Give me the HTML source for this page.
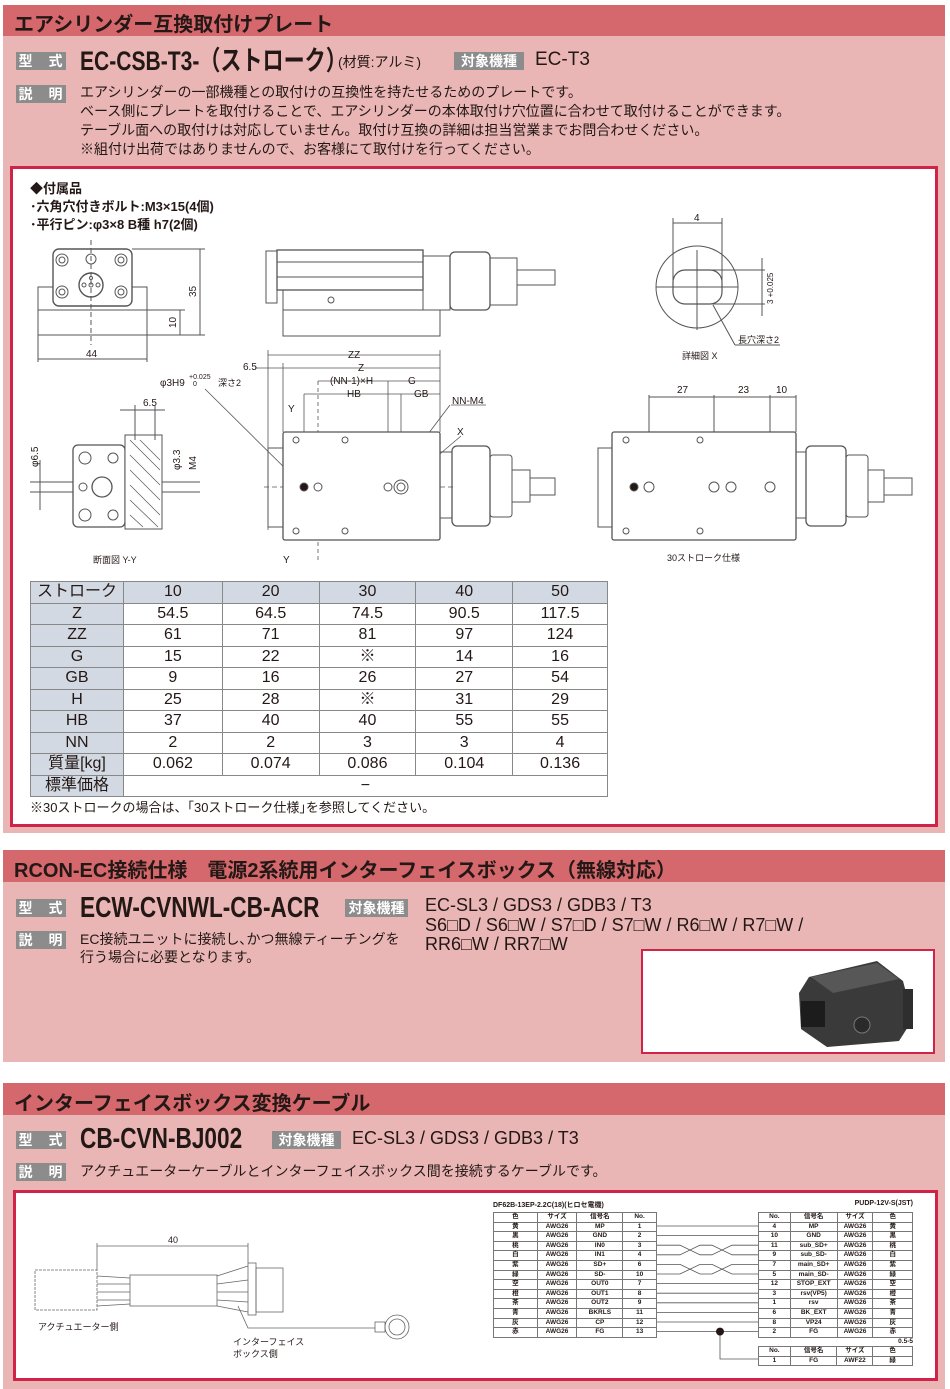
<!DOCTYPE html>
<html><head><meta charset="utf-8">
<style>
*{margin:0;padding:0;box-sizing:border-box}
body{width:950px;height:1389px;background:#fff;position:relative;overflow:hidden;font-family:"Liberation Sans","Noto Sans CJK JP",sans-serif;color:#231815}
.a{position:absolute;white-space:nowrap}
.hd{position:absolute;left:3px;width:942px;background:#d4686c}
.bd{position:absolute;left:3px;width:942px;background:#e9b6b5}
.ht{position:absolute;left:14px;font-weight:bold;font-size:20px;color:#231815}
.lb{position:absolute;background:#8c8c8c;color:#fff;font-size:14px;font-weight:bold;height:18px;line-height:18px;text-align:center;letter-spacing:1px}
.md{position:absolute;font-weight:bold;font-size:27px;transform:scaleX(.78);transform-origin:left center;line-height:30px}
.tx{position:absolute;font-size:14px;line-height:19px}
.wb{position:absolute;background:#fff;border:3px solid #cf2347}
table{border-collapse:collapse}
</style></head><body>

<!-- Section 1 -->
<div class="hd" style="top:5px;height:31px"></div>
<div class="ht" style="top:8px">エアシリンダー互換取付けプレート</div>
<div class="bd" style="top:36px;height:797px"></div>
<div class="lb" style="left:16px;top:52px;width:50px">型　式</div>
<div class="md" style="left:80px;top:46px">EC-CSB-T3-（ストローク）</div>
<div class="a" style="left:338px;top:52px;font-size:14px">(材質:アルミ)</div>
<div class="lb" style="left:454px;top:52px;width:70px;letter-spacing:0">対象機種</div>
<div class="a" style="left:535px;top:49px;font-size:19px">EC-T3</div>
<div class="lb" style="left:16px;top:85px;width:50px">説　明</div>
<div class="tx" style="left:80px;top:83px">エアシリンダーの一部機種との取付けの互換性を持たせるためのプレートです。<br>ベース側にプレートを取付けることで、エアシリンダーの本体取付け穴位置に合わせて取付けることができます。<br>テーブル面への取付けは対応していません。取付け互換の詳細は担当営業までお問合わせください。<br>※組付け出荷ではありませんので、お客様にて取付けを行ってください。</div>
<div class="wb" style="left:10px;top:166px;width:928px;height:661px"></div>
<div class="a" style="left:30px;top:180px;font-size:13px;line-height:18px;font-weight:bold">◆付属品<br>･六角穴付きボルト:M3×15(4個)<br>･平行ピン:φ3×8 B種 h7(2個)</div>

<svg class="a" style="left:0;top:0" width="950" height="1389" viewBox="0 0 950 1389" fill="none" stroke="#555" stroke-width="1" font-family="Liberation Sans, Noto Sans CJK JP, sans-serif">
<rect x="38" y="287" width="109" height="48" fill="#fff"/>
<line x1="38" y1="310" x2="147" y2="310"/>
<rect x="53" y="249" width="79" height="57" rx="6" fill="#fff" stroke-width="1.4"/>
<circle cx="62" cy="260" r="6"/><circle cx="62" cy="260" r="3"/>
<circle cx="121" cy="260" r="6"/><circle cx="121" cy="260" r="3"/>
<circle cx="62" cy="292" r="6"/><circle cx="62" cy="292" r="3"/>
<circle cx="121" cy="292" r="6"/><circle cx="121" cy="292" r="3"/>
<circle cx="91" cy="259" r="5"/><circle cx="91" cy="285" r="12" stroke-width="1.4"/><circle cx="91" cy="285" r="2"/><circle cx="84" cy="285" r="2"/><circle cx="98" cy="285" r="2"/><circle cx="91" cy="278" r="1.5"/>
<line x1="91" y1="240" x2="91" y2="345" stroke-dasharray="5 3"/>
<line x1="132" y1="249" x2="205" y2="249"/><line x1="147" y1="335" x2="205" y2="335"/><line x1="200" y1="249" x2="200" y2="335"/>
<line x1="147" y1="310" x2="185" y2="310"/><line x1="180" y1="310" x2="180" y2="335"/>
<line x1="38" y1="335" x2="38" y2="362"/><line x1="147" y1="335" x2="147" y2="362"/><line x1="38" y1="359" x2="147" y2="359"/>
<g fill="#231815" stroke="none" font-size="10"><text x="86" y="357">44</text><text transform="translate(196,297) rotate(-90)">35</text><text transform="translate(176,328) rotate(-90)">10</text></g>
<rect x="266" y="251" width="11" height="52"/>
<rect x="277" y="250" width="146" height="40" stroke-width="1.3"/>
<line x1="277" y1="262" x2="423" y2="262"/><line x1="277" y1="277" x2="423" y2="277"/>
<rect x="283" y="290" width="140" height="20"/>
<rect x="283" y="310" width="157" height="26"/>
<circle cx="331" cy="300" r="3"/>
<path d="M423 256 L450 256 L450 310 L423 310"/>
<rect x="450" y="252" width="40" height="58" rx="5" stroke-width="1.3"/>
<rect x="490" y="258" width="27" height="47"/>
<rect x="517" y="270" width="38" height="15"/>
<g stroke-width=".8">
<line x1="268" y1="350" x2="268" y2="530"/><line x1="283" y1="363" x2="283" y2="432"/><line x1="440" y1="350" x2="440" y2="432"/>
<line x1="268" y1="355" x2="440" y2="355"/><line x1="255" y1="368" x2="440" y2="368"/>
<line x1="318" y1="381" x2="440" y2="381"/><line x1="304" y1="394" x2="440" y2="394"/>
<line x1="318" y1="381" x2="318" y2="560" stroke-dasharray="4 3"/><line x1="304" y1="394" x2="304" y2="487"/><line x1="388" y1="381" x2="388" y2="487"/><line x1="401" y1="394" x2="401" y2="487"/>
<line x1="264" y1="487" x2="455" y2="487" stroke-dasharray="5 3"/>
<line x1="205" y1="389" x2="304" y2="487"/><line x1="450" y1="405" x2="388" y2="487"/><line x1="461" y1="436" x2="401" y2="487"/>
<line x1="451" y1="405" x2="486" y2="405"/>
</g>
<rect x="283" y="432" width="157" height="108" rx="2" fill="#fff" stroke-width="1.3"/>
<rect x="268" y="448" width="15" height="79"/>
<rect x="440" y="452" width="12" height="66"/>
<rect x="452" y="446" width="38" height="80" rx="5" stroke-width="1.3"/>
<rect x="490" y="455" width="22" height="62" rx="3"/>
<rect x="512" y="470" width="18" height="32"/><rect x="530" y="478" width="25" height="17"/>
<circle cx="304" cy="487" r="4" fill="#231815"/><circle cx="318" cy="487" r="4"/><circle cx="388" cy="487" r="4"/><circle cx="401" cy="487" r="7"/><circle cx="401" cy="487" r="4"/>
<circle cx="296" cy="440" r="3"/><circle cx="345" cy="440" r="3"/><circle cx="296" cy="531" r="3"/><circle cx="345" cy="531" r="3"/>
<g fill="#231815" stroke="none" font-size="10"><text x="348" y="358">ZZ</text><text x="358" y="371">Z</text><text x="243" y="370">6.5</text><text x="330" y="384">(NN-1)×H</text><text x="408" y="384">G</text><text x="347" y="397">HB</text><text x="414" y="397">GB</text><text x="452" y="404">NN-M4</text><text x="457" y="435">X</text><text x="288" y="412">Y</text><text x="283" y="563">Y</text>
<text x="160" y="386">φ3H9</text><text x="189" y="379" font-size="7">+0.025</text><text x="193" y="386" font-size="7">0</text><text x="218" y="386" font-size="9">深さ2</text>
<text x="93" y="563" font-size="9">断面図 Y-Y</text><text x="143" y="406">6.5</text></g>
<rect x="73" y="445" width="52" height="82" rx="5" stroke-width="1.3"/>
<circle cx="85" cy="458" r="6"/><circle cx="85" cy="515" r="6"/><circle cx="113" cy="458" r="5"/><circle cx="113" cy="515" r="5"/><circle cx="102" cy="487" r="10" stroke-width="1.3"/><circle cx="83" cy="487" r="4"/>
<rect x="125" y="435" width="37" height="94" fill="#fff"/>
<path d="M130 440 L160 470 M130 455 L160 485 M130 470 L160 500 M130 485 L160 515 M130 500 L158 527 M140 440 L160 460 M130 515 L143 527" stroke-width=".7"/>
<line x1="162" y1="482" x2="200" y2="482"/><line x1="162" y1="492" x2="200" y2="492"/>
<line x1="30" y1="482" x2="73" y2="482"/><line x1="30" y1="492" x2="73" y2="492"/><line x1="40" y1="460" x2="40" y2="510"/>
<line x1="120" y1="410" x2="165" y2="410"/><line x1="135" y1="405" x2="135" y2="440"/><line x1="155" y1="405" x2="155" y2="440"/>
<g fill="#231815" stroke="none" font-size="10"><text transform="translate(38,467) rotate(-90)">φ6.5</text><text transform="translate(180,470) rotate(-90)">φ3.3</text><text transform="translate(196,470) rotate(-90)">M4</text></g>
<circle cx="697" cy="287" r="41"/>
<rect x="673" y="270" width="49" height="34" rx="12" stroke-width="1.2"/>
<line x1="697" y1="250" x2="697" y2="330"/><line x1="656" y1="287" x2="738" y2="287"/>
<line x1="673" y1="218" x2="673" y2="287"/><line x1="722" y1="218" x2="722" y2="287"/><line x1="673" y1="223" x2="722" y2="223"/>
<line x1="697" y1="270" x2="765" y2="270"/><line x1="697" y1="304" x2="765" y2="304"/><line x1="762" y1="258" x2="762" y2="316"/>
<line x1="713" y1="305" x2="735" y2="345"/><line x1="735" y1="345" x2="780" y2="345"/>
<g fill="#231815" stroke="none" font-size="10"><text x="694" y="221">4</text><text x="738" y="343" font-size="9">長穴深さ2</text><text x="682" y="359" font-size="9">詳細図 X</text><text transform="translate(773,304) rotate(-90)" font-size="8">3 +0.025</text></g>
<line x1="649" y1="395" x2="649" y2="487"/><line x1="714" y1="395" x2="714" y2="487"/><line x1="770" y1="395" x2="770" y2="487"/><line x1="796" y1="395" x2="796" y2="432"/>
<line x1="649" y1="397" x2="796" y2="397"/>
<rect x="612" y="432" width="184" height="108" rx="2" fill="#fff" stroke-width="1.3"/>
<rect x="598" y="448" width="14" height="79"/>
<rect x="796" y="452" width="10" height="66"/>
<rect x="806" y="446" width="40" height="80" rx="5" stroke-width="1.3"/>
<rect x="846" y="455" width="22" height="62" rx="3"/>
<rect x="868" y="470" width="16" height="32"/><rect x="884" y="478" width="28" height="17"/>
<circle cx="634" cy="487" r="4" fill="#231815"/><circle cx="649" cy="487" r="5"/><circle cx="714" cy="487" r="5"/><circle cx="731" cy="487" r="5"/><circle cx="770" cy="487" r="5"/>
<circle cx="626" cy="440" r="3"/><circle cx="700" cy="440" r="3"/><circle cx="626" cy="531" r="3"/><circle cx="700" cy="531" r="3"/>
<g fill="#231815" stroke="none" font-size="10"><text x="677" y="393">27</text><text x="738" y="393">23</text><text x="776" y="393">10</text><text x="667" y="561" font-size="9">30ストローク仕様</text></g>
</svg>

<table class="a" style="left:30px;top:581px;width:578px;font-size:16px;text-align:center">
<colgroup><col style="width:93px"><col style="width:99px"><col style="width:97px"><col style="width:97px"><col style="width:97px"><col style="width:95px"></colgroup>
<tbody style="line-height:20.5px">
<tr style="background:#d3d9e2"><td style="border:1px solid #888">ストローク</td><td style="border:1px solid #888">10</td><td style="border:1px solid #888">20</td><td style="border:1px solid #888">30</td><td style="border:1px solid #888">40</td><td style="border:1px solid #888">50</td></tr>
<tr><td style="border:1px solid #888;background:#d3d9e2">Z</td><td style="border:1px solid #888">54.5</td><td style="border:1px solid #888">64.5</td><td style="border:1px solid #888">74.5</td><td style="border:1px solid #888">90.5</td><td style="border:1px solid #888">117.5</td></tr>
<tr><td style="border:1px solid #888;background:#d3d9e2">ZZ</td><td style="border:1px solid #888">61</td><td style="border:1px solid #888">71</td><td style="border:1px solid #888">81</td><td style="border:1px solid #888">97</td><td style="border:1px solid #888">124</td></tr>
<tr><td style="border:1px solid #888;background:#d3d9e2">G</td><td style="border:1px solid #888">15</td><td style="border:1px solid #888">22</td><td style="border:1px solid #888">※</td><td style="border:1px solid #888">14</td><td style="border:1px solid #888">16</td></tr>
<tr><td style="border:1px solid #888;background:#d3d9e2">GB</td><td style="border:1px solid #888">9</td><td style="border:1px solid #888">16</td><td style="border:1px solid #888">26</td><td style="border:1px solid #888">27</td><td style="border:1px solid #888">54</td></tr>
<tr><td style="border:1px solid #888;background:#d3d9e2">H</td><td style="border:1px solid #888">25</td><td style="border:1px solid #888">28</td><td style="border:1px solid #888">※</td><td style="border:1px solid #888">31</td><td style="border:1px solid #888">29</td></tr>
<tr><td style="border:1px solid #888;background:#d3d9e2">HB</td><td style="border:1px solid #888">37</td><td style="border:1px solid #888">40</td><td style="border:1px solid #888">40</td><td style="border:1px solid #888">55</td><td style="border:1px solid #888">55</td></tr>
<tr><td style="border:1px solid #888;background:#d3d9e2">NN</td><td style="border:1px solid #888">2</td><td style="border:1px solid #888">2</td><td style="border:1px solid #888">3</td><td style="border:1px solid #888">3</td><td style="border:1px solid #888">4</td></tr>
<tr><td style="border:1px solid #888;background:#d3d9e2">質量[kg]</td><td style="border:1px solid #888">0.062</td><td style="border:1px solid #888">0.074</td><td style="border:1px solid #888">0.086</td><td style="border:1px solid #888">0.104</td><td style="border:1px solid #888">0.136</td></tr>
<tr><td style="border:1px solid #888;background:#d3d9e2">標準価格</td><td colspan="5" style="border:1px solid #888">−</td></tr>
</tbody></table>
<div class="a" style="left:30px;top:797px;font-size:13px">※30ストロークの場合は、｢30ストローク仕様｣を参照してください。</div>

<!-- Section 2 -->
<div class="hd" style="top:850px;height:32px"></div>
<div class="ht" style="top:854px">RCON-EC接続仕様　電源2系統用インターフェイスボックス（無線対応）</div>
<div class="bd" style="top:882px;height:180px"></div>
<div class="lb" style="left:16px;top:899px;width:50px">型　式</div>
<div class="md" style="left:80px;top:893px;font-size:29px">ECW-CVNWL-CB-ACR</div>
<div class="lb" style="left:345px;top:899px;width:63px;letter-spacing:0">対象機種</div>
<div class="a" style="left:425px;top:896px;font-size:18px;line-height:19.5px">EC-SL3 / GDS3 / GDB3 / T3<br>S6□D / S6□W / S7□D / S7□W / R6□W / R7□W /<br>RR6□W / RR7□W</div>
<div class="lb" style="left:16px;top:931px;width:50px">説　明</div>
<div class="tx" style="left:80px;top:930px;line-height:18px">EC接続ユニットに接続し､かつ無線ティーチングを<br>行う場合に必要となります。</div>
<div class="a" style="left:641px;top:949px;width:294px;height:105px;background:#fff;border:2px solid #cf2347"></div>
<svg class="a" style="left:641px;top:949px" width="294" height="105" viewBox="0 0 294 105">
<path d="M168 28 L236 12 L262 32 L272 70 L258 92 L186 98 L160 80 L158 44 Z" fill="#3a3a3a"/>
<path d="M170 28 L236 14 L258 30 L192 44 Z" fill="#575757"/>
<rect x="160" y="52" width="24" height="26" fill="#1c1c1c"/>
<circle cx="221" cy="76" r="8" fill="#2a2a2a" stroke="#777"/>
<rect x="262" y="40" width="10" height="40" fill="#2e2e2e"/>
</svg>

<!-- Section 3 -->
<div class="hd" style="top:1083px;height:32px"></div>
<div class="ht" style="top:1087px">インターフェイスボックス変換ケーブル</div>
<div class="bd" style="top:1115px;height:274px"></div>
<div class="lb" style="left:16px;top:1131px;width:50px">型　式</div>
<div class="md" style="left:80px;top:1124px;font-size:29px">CB-CVN-BJ002</div>
<div class="lb" style="left:272px;top:1131px;width:69px;letter-spacing:0">対象機種</div>
<div class="a" style="left:352px;top:1128px;font-size:18px">EC-SL3 / GDS3 / GDB3 / T3</div>
<div class="lb" style="left:16px;top:1163px;width:50px">説　明</div>
<div class="tx" style="left:80px;top:1162px">アクチュエーターケーブルとインターフェイスボックス間を接続するケーブルです。</div>
<div class="wb" style="left:13px;top:1190px;width:925px;height:191px"></div>

<svg class="a" style="left:0;top:0" width="950" height="1389" viewBox="0 0 950 1389" fill="none" stroke="#666" stroke-width=".8" font-family="Liberation Sans, Noto Sans CJK JP, sans-serif">
<rect x="35" y="1270" width="62" height="40" stroke-dasharray="3 1"/>
<path d="M97 1276 L130 1278 M97 1284 L130 1284 M97 1292 L130 1292 M97 1300 L130 1300 M97 1306 L130 1304 M217 1276 L248 1266 M217 1284 L248 1280 M217 1292 L248 1292 M217 1300 L248 1302 M217 1306 L248 1312"/>
<rect x="130" y="1275" width="87" height="31"/>
<rect x="248" y="1263" width="8" height="52"/><rect x="256" y="1268" width="27" height="44"/>
<path d="M238 1306 L248 1328 L375 1328"/><rect x="375" y="1322" width="10" height="10"/>
<circle cx="397" cy="1327" r="12"/><circle cx="397" cy="1327" r="8"/>
<line x1="97" y1="1243" x2="97" y2="1270"/><line x1="248" y1="1243" x2="248" y2="1263"/><line x1="97" y1="1246" x2="248" y2="1246"/>
<g fill="#231815" stroke="none" font-size="9"><text x="168" y="1243">40</text><text x="38" y="1330">アクチュエーター側</text><text x="233" y="1345">インターフェイス</text><text x="233" y="1357">ボックス側</text></g>
</svg>

<div class="a" style="left:493px;top:1200px;font-size:7px;font-weight:bold">DF62B-13EP-2.2C(18)(ヒロセ電機)</div>
<div class="a" style="left:840px;top:1200px;width:73px;text-align:right;font-size:7px;font-weight:bold">PUDP-12V-S(JST)</div>
<table class="a" style="left:493px;top:1212px;width:164px;font-size:6.5px;font-weight:bold;text-align:center;line-height:8.6px">
<colgroup><col style="width:44px"><col style="width:40px"><col style="width:46px"><col style="width:34px"></colgroup>
<tr><td style="border:1px solid #777">色</td><td style="border:1px solid #777">サイズ</td><td style="border:1px solid #777">信号名</td><td style="border:1px solid #777">No.</td></tr>
<tr><td style="border:1px solid #777">黄</td><td style="border:1px solid #777">AWG26</td><td style="border:1px solid #777">MP</td><td style="border:1px solid #777">1</td></tr>
<tr><td style="border:1px solid #777">黒</td><td style="border:1px solid #777">AWG26</td><td style="border:1px solid #777">GND</td><td style="border:1px solid #777">2</td></tr>
<tr><td style="border:1px solid #777">桃</td><td style="border:1px solid #777">AWG26</td><td style="border:1px solid #777">IN0</td><td style="border:1px solid #777">3</td></tr>
<tr><td style="border:1px solid #777">白</td><td style="border:1px solid #777">AWG26</td><td style="border:1px solid #777">IN1</td><td style="border:1px solid #777">4</td></tr>
<tr><td style="border:1px solid #777">紫</td><td style="border:1px solid #777">AWG26</td><td style="border:1px solid #777">SD+</td><td style="border:1px solid #777">6</td></tr>
<tr><td style="border:1px solid #777">緑</td><td style="border:1px solid #777">AWG26</td><td style="border:1px solid #777">SD-</td><td style="border:1px solid #777">10</td></tr>
<tr><td style="border:1px solid #777">空</td><td style="border:1px solid #777">AWG26</td><td style="border:1px solid #777">OUT0</td><td style="border:1px solid #777">7</td></tr>
<tr><td style="border:1px solid #777">橙</td><td style="border:1px solid #777">AWG26</td><td style="border:1px solid #777">OUT1</td><td style="border:1px solid #777">8</td></tr>
<tr><td style="border:1px solid #777">茶</td><td style="border:1px solid #777">AWG26</td><td style="border:1px solid #777">OUT2</td><td style="border:1px solid #777">9</td></tr>
<tr><td style="border:1px solid #777">青</td><td style="border:1px solid #777">AWG26</td><td style="border:1px solid #777">BKRLS</td><td style="border:1px solid #777">11</td></tr>
<tr><td style="border:1px solid #777">灰</td><td style="border:1px solid #777">AWG26</td><td style="border:1px solid #777">CP</td><td style="border:1px solid #777">12</td></tr>
<tr><td style="border:1px solid #777">赤</td><td style="border:1px solid #777">AWG26</td><td style="border:1px solid #777">FG</td><td style="border:1px solid #777">13</td></tr>
</table>
<table class="a" style="left:758px;top:1212px;width:155px;font-size:6.5px;font-weight:bold;text-align:center;line-height:8.6px">
<colgroup><col style="width:32px"><col style="width:47px"><col style="width:36px"><col style="width:40px"></colgroup>
<tr><td style="border:1px solid #777">No.</td><td style="border:1px solid #777">信号名</td><td style="border:1px solid #777">サイズ</td><td style="border:1px solid #777">色</td></tr>
<tr><td style="border:1px solid #777">4</td><td style="border:1px solid #777">MP</td><td style="border:1px solid #777">AWG26</td><td style="border:1px solid #777">黄</td></tr>
<tr><td style="border:1px solid #777">10</td><td style="border:1px solid #777">GND</td><td style="border:1px solid #777">AWG26</td><td style="border:1px solid #777">黒</td></tr>
<tr><td style="border:1px solid #777">11</td><td style="border:1px solid #777">sub_SD+</td><td style="border:1px solid #777">AWG26</td><td style="border:1px solid #777">桃</td></tr>
<tr><td style="border:1px solid #777">9</td><td style="border:1px solid #777">sub_SD-</td><td style="border:1px solid #777">AWG26</td><td style="border:1px solid #777">白</td></tr>
<tr><td style="border:1px solid #777">7</td><td style="border:1px solid #777">main_SD+</td><td style="border:1px solid #777">AWG26</td><td style="border:1px solid #777">紫</td></tr>
<tr><td style="border:1px solid #777">5</td><td style="border:1px solid #777">main_SD-</td><td style="border:1px solid #777">AWG26</td><td style="border:1px solid #777">緑</td></tr>
<tr><td style="border:1px solid #777">12</td><td style="border:1px solid #777">STOP_EXT</td><td style="border:1px solid #777">AWG26</td><td style="border:1px solid #777">空</td></tr>
<tr><td style="border:1px solid #777">3</td><td style="border:1px solid #777">rsv(VP5)</td><td style="border:1px solid #777">AWG26</td><td style="border:1px solid #777">橙</td></tr>
<tr><td style="border:1px solid #777">1</td><td style="border:1px solid #777">rsv</td><td style="border:1px solid #777">AWG26</td><td style="border:1px solid #777">茶</td></tr>
<tr><td style="border:1px solid #777">6</td><td style="border:1px solid #777">BK_EXT</td><td style="border:1px solid #777">AWG26</td><td style="border:1px solid #777">青</td></tr>
<tr><td style="border:1px solid #777">8</td><td style="border:1px solid #777">VP24</td><td style="border:1px solid #777">AWG26</td><td style="border:1px solid #777">灰</td></tr>
<tr><td style="border:1px solid #777">2</td><td style="border:1px solid #777">FG</td><td style="border:1px solid #777">AWG26</td><td style="border:1px solid #777">赤</td></tr>
</table>
<div class="a" style="left:880px;top:1338px;width:33px;text-align:right;font-size:6.5px;font-weight:bold">0.5-5</div>
<table class="a" style="left:758px;top:1346px;width:155px;font-size:6.5px;font-weight:bold;text-align:center;line-height:8.6px">
<colgroup><col style="width:32px"><col style="width:47px"><col style="width:36px"><col style="width:40px"></colgroup>
<tr><td style="border:1px solid #777">No.</td><td style="border:1px solid #777">信号名</td><td style="border:1px solid #777">サイズ</td><td style="border:1px solid #777">色</td></tr>
<tr><td style="border:1px solid #777">1</td><td style="border:1px solid #777">FG</td><td style="border:1px solid #777">AWF22</td><td style="border:1px solid #777">緑</td></tr>
</table>
<svg class="a" style="left:0;top:0" width="950" height="1389" viewBox="0 0 950 1389" fill="none" stroke="#555" stroke-width=".8">
<path d="M657 1226 H758 M657 1235.6 H758 M657 1245.2 H680 L700 1254.8 L712 1254.8 L732 1245.2 H758 M657 1254.8 H680 L700 1245.2 L712 1245.2 L732 1254.8 H758 M657 1264.4 H680 L700 1274 L712 1274 L732 1264.4 H758 M657 1274 H680 L700 1264.4 L712 1264.4 L732 1274 H758 M657 1283.6 H758 M657 1293.2 H758 M657 1302.8 H758 M657 1312.4 H758 M657 1322 H758 M657 1331.6 H758 M720 1331.6 V1359 H758"/>
<circle cx="720" cy="1331.6" r="4" fill="#231815" stroke="none"/>
</svg>
</body></html>
